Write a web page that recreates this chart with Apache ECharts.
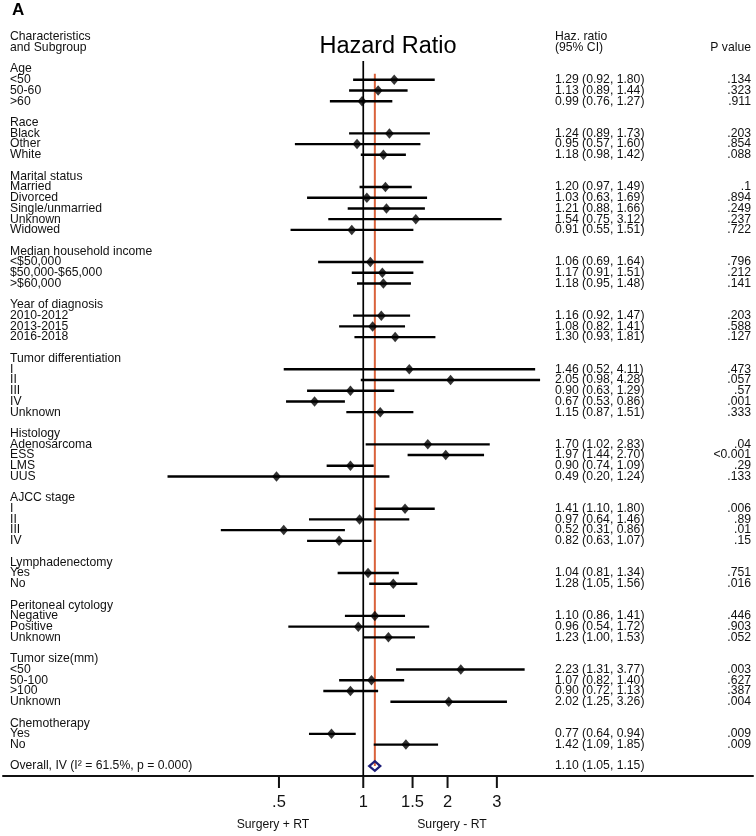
<!DOCTYPE html>
<html><head><meta charset="utf-8">
<script src="https://cdn.jsdelivr.net/npm/echarts@6/dist/echarts.min.js"></script>
<style>html,body{margin:0;padding:0;background:#fff}#main{width:756px;height:836px}</style>
</head><body><div id="main"></div>
<script>
const groupNames = ['Age', 'Race', 'Marital status', 'Median household income', 'Year of diagnosis',
  'Tumor differentiation', 'Histology', 'AJCC stage', 'Lymphadenectomy', 'Peritoneal cytology',
  'Tumor size(mm)', 'Chemotherapy'];
const subgroupLabels = [
  ['<50', '50-60', '>60'],
  ['Black', 'Other', 'White'],
  ['Married', 'Divorced', 'Single/unmarried', 'Unknown', 'Widowed'],
  ['<$50,000', '$50,000-$65,000', '>$60,000'],
  ['2010-2012', '2013-2015', '2016-2018'],
  ['I', 'II', 'III', 'IV', 'Unknown'],
  ['Adenosarcoma', 'ESS', 'LMS', 'UUS'],
  ['I', 'II', 'III', 'IV'],
  ['Yes', 'No'],
  ['Negative', 'Positive', 'Unknown'],
  ['<50', '50-100', '>100', 'Unknown'],
  ['Yes', 'No']
];
const hazardRatios = [
  [1.29, 1.13, 0.99],
  [1.24, 0.95, 1.18],
  [1.20, 1.03, 1.21, 1.54, 0.91],
  [1.06, 1.17, 1.18],
  [1.16, 1.08, 1.30],
  [1.46, 2.05, 0.90, 0.67, 1.15],
  [1.70, 1.97, 0.90, 0.49],
  [1.41, 0.97, 0.52, 0.82],
  [1.04, 1.28],
  [1.10, 0.96, 1.23],
  [2.23, 1.07, 0.90, 2.02],
  [0.77, 1.42]
];
const ciLower = [
  [0.92, 0.89, 0.76],
  [0.89, 0.57, 0.98],
  [0.97, 0.63, 0.88, 0.75, 0.55],
  [0.69, 0.91, 0.95],
  [0.92, 0.82, 0.93],
  [0.52, 0.98, 0.63, 0.53, 0.87],
  [1.02, 1.44, 0.74, 0.20],
  [1.10, 0.64, 0.31, 0.63],
  [0.81, 1.05],
  [0.86, 0.54, 1.00],
  [1.31, 0.82, 0.72, 1.25],
  [0.64, 1.09]
];
const ciUpper = [
  [1.80, 1.44, 1.27],
  [1.73, 1.60, 1.42],
  [1.49, 1.69, 1.66, 3.12, 1.51],
  [1.64, 1.51, 1.48],
  [1.47, 1.41, 1.81],
  [4.11, 4.28, 1.29, 0.86, 1.51],
  [2.83, 2.70, 1.09, 1.24],
  [1.80, 1.46, 0.86, 1.07],
  [1.34, 1.56],
  [1.41, 1.72, 1.53],
  [3.77, 1.40, 1.13, 3.26],
  [0.94, 1.85]
];
const pValues = [
  ['.134', '.323', '.911'],
  ['.203', '.854', '.088'],
  ['.1', '.894', '.249', '.237', '.722'],
  ['.796', '.212', '.141'],
  ['.203', '.588', '.127'],
  ['.473', '.057', '.57', '.001', '.333'],
  ['.04', '<0.001', '.29', '.133'],
  ['.006', '.89', '.01', '.15'],
  ['.751', '.016'],
  ['.446', '.903', '.052'],
  ['.003', '.627', '.387', '.004'],
  ['.009', '.009']
];
const overallLabel = 'Overall, IV (I\u00B2 = 61.5%, p = 0.000)';
const overallHR = 1.10, overallLower = 1.05, overallUpper = 1.15;
const tickValues = [0.5, 1, 1.5, 2, 3];
const tickLabels = ['.5', '1', '1.5', '2', '3'];
const nullValue = 1;

// ---- build row layout (row index = vertical slot) ----
const rows = [];
let r = 0;
groupNames.forEach((g, gi) => {
  rows.push({ row: r++, label: g });
  subgroupLabels[gi].forEach((s, si) => {
    rows.push({ row: r++, label: s, hr: hazardRatios[gi][si], lo: ciLower[gi][si], hi: ciUpper[gi][si], p: pValues[gi][si] });
  });
  r++;
});
const overallRow = r;
rows.push({ row: overallRow, label: overallLabel, hr: overallHR, lo: overallLower, hi: overallUpper, p: '', overall: true });

const Y_MIN = -0.75, Y_MAX = 65.93;
const FONT = 'Liberation Sans, Arial, Helvetica, sans-serif';
const TXT = '#111';
const fmt = v => v.toFixed(2);

const estRows = rows.filter(d => d.hr != null && !d.overall);

const chart = echarts.init(document.getElementById('main'), null, { renderer: 'canvas' });
chart.setOption({
  animation: false,
  backgroundColor: '#fff',
  grid: { left: 3, right: 3, top: 61, bottom: 60, containLabel: false },
  xAxis: {
    type: 'log', logBase: 10, min: 0.0517, max: 24.65,
    axisLine: { show: true, onZero: false, lineStyle: { color: '#111', width: 2 } },
    axisTick: { show: false }, axisLabel: { show: false }, splitLine: { show: false }
  },
  yAxis: {
    type: 'value', inverse: true, min: Y_MIN, max: Y_MAX, show: false,
    splitLine: { show: false }
  },
  graphic: [
    { type: 'text', left: 12, top: 2, style: { text: 'A', font: 'bold 17px ' + FONT, fill: '#000' } },
    { type: 'text', x: 10, y: 36.5, style: { text: 'Characteristics', font: '12.2px ' + FONT, fill: TXT, verticalAlign: 'middle' } },
    { type: 'text', x: 10, y: 47.3, style: { text: 'and Subgroup', font: '12.2px ' + FONT, fill: TXT, verticalAlign: 'middle' } },
    { type: 'text', x: 388, y: 47, style: { text: 'Hazard Ratio', font: '23.5px ' + FONT, fill: '#000', align: 'center', verticalAlign: 'middle' } },
    { type: 'text', x: 555, y: 36.5, style: { text: 'Haz. ratio', font: '12.2px ' + FONT, fill: TXT, verticalAlign: 'middle' } },
    { type: 'text', x: 555, y: 47.3, style: { text: '(95% CI)', font: '12.2px ' + FONT, fill: TXT, verticalAlign: 'middle' } },
    { type: 'text', x: 751, y: 47.3, style: { text: 'P value', font: '12.2px ' + FONT, fill: TXT, align: 'right', verticalAlign: 'middle' } },
    { type: 'text', x: 273, y: 825, style: { text: 'Surgery + RT', font: '12.2px ' + FONT, fill: TXT, align: 'center', verticalAlign: 'middle' } },
    { type: 'text', x: 452, y: 825, style: { text: 'Surgery - RT', font: '12.2px ' + FONT, fill: TXT, align: 'center', verticalAlign: 'middle' } }
  ],
  series: [
    { // null line at HR = 1
      type: 'line', data: [[nullValue, Y_MIN], [nullValue, Y_MAX]], symbol: 'none',
      lineStyle: { color: '#000', width: 1.7 }, z: 1, silent: true
    },
    { // overall effect line
      type: 'line', data: [[overallHR, 0.45], [overallHR, overallRow]], symbol: 'none',
      lineStyle: { color: '#d9623b', width: 2 }, z: 2, silent: true
    },
    { // confidence intervals
      type: 'custom', z: 3,
      data: estRows.map(d => [d.lo, d.hi, d.row]),
      encode: { x: [0, 1], y: 2 },
      renderItem: (params, api) => {
        const p1 = api.coord([api.value(0), api.value(2)]);
        const p2 = api.coord([api.value(1), api.value(2)]);
        return { type: 'line', shape: { x1: p1[0], y1: p1[1], x2: p2[0], y2: p2[1] }, style: { stroke: '#000', lineWidth: 2.4 } };
      }
    },
    { // point estimates
      type: 'scatter', z: 4, symbol: 'diamond', symbolSize: [9, 10.5],
      itemStyle: { color: '#000' },
      data: estRows.map(d => [d.hr, d.row])
    },
    { // overall diamond
      type: 'custom', z: 5,
      data: [[overallLower, overallHR, overallUpper, overallRow]],
      encode: { x: [0, 2], y: 3 },
      renderItem: (params, api) => {
        const row = api.value(3);
        const a = api.coord([api.value(0), row]);
        const c = api.coord([api.value(1), row]);
        const b = api.coord([api.value(2), row]);
        const h = 4.8;
        return { type: 'polygon', shape: { points: [[a[0], a[1]], [c[0], c[1] - h], [b[0], b[1]], [c[0], c[1] + h]] },
          style: { fill: 'none', stroke: '#1d1d78', lineWidth: 2.3 } };
      }
    },
    { // axis ticks and tick labels
      type: 'custom', z: 6,
      data: tickValues.map(v => [v, Y_MAX]),
      encode: { x: 0, y: 1 },
      renderItem: (params, api) => {
        const p = api.coord([api.value(0), api.value(1)]);
        return { type: 'group', children: [
          { type: 'line', shape: { x1: p[0], y1: p[1], x2: p[0], y2: p[1] + 12 }, style: { stroke: '#111', lineWidth: 2 } },
          { type: 'text', x: p[0], y: p[1] + 26, style: { text: tickLabels[params.dataIndex], font: '16.5px ' + FONT, fill: TXT, align: 'center', verticalAlign: 'middle' } }
        ] };
      }
    },
    { // row texts
      type: 'custom', z: 7,
      data: rows.map(d => [nullValue, d.row]),
      encode: { x: 0, y: 1 },
      renderItem: (params, api) => {
        const d = rows[params.dataIndex];
        const y = api.coord([api.value(0), api.value(1)])[1];
        const font = '12.2px ' + FONT;
        const children = [
          { type: 'text', x: 10, y: y, style: { text: d.label, font, fill: TXT, align: 'left', verticalAlign: 'middle' } }
        ];
        if (d.hr != null) {
          children.push({ type: 'text', x: 555, y: y, style: { text: fmt(d.hr) + ' (' + fmt(d.lo) + ', ' + fmt(d.hi) + ')', font, fill: TXT, align: 'left', verticalAlign: 'middle' } });
          if (d.p) children.push({ type: 'text', x: 751, y: y, style: { text: d.p, font, fill: TXT, align: 'right', verticalAlign: 'middle' } });
        }
        return { type: 'group', children };
      }
    }
  ]
});
</script></body></html>
